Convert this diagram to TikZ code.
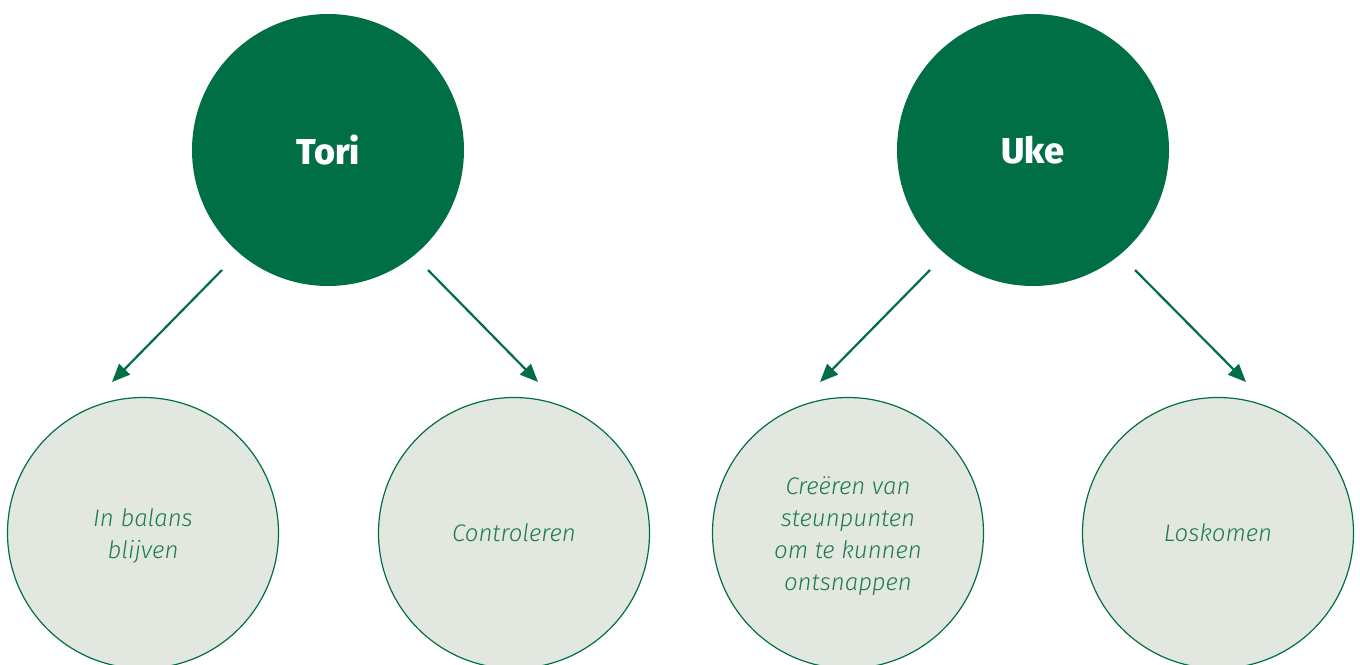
\documentclass[tikz,border=0pt]{standalone}
\usepackage{fontspec}
\setmainfont{Fira Sans}
\newfontfamily\lightfam{Fira Sans Light}
\newfontfamily\heavyfam{Fira Sans ExtraBold}
\usetikzlibrary{arrows.meta}
\definecolor{dgreen}{RGB}{0,111,70}
\definecolor{lgreen}{RGB}{226,231,224}
\definecolor{tgreen}{RGB}{30,122,84}
\newcommand{\tstrut}{\rule{0pt}{24pt}}
\begin{document}
\begin{tikzpicture}[x=1pt,y=-1pt,
  topc/.style={circle,fill=dgreen,minimum size=272pt,inner sep=0pt,text=white,font=\heavyfam\fontsize{36}{40}\selectfont},
  botc/.style={circle,fill=lgreen,draw=dgreen,line width=1.2pt,minimum size=271pt,inner sep=0pt,text=tgreen,align=center,font=\lightfam\fontsize{24}{32}\selectfont\itshape},
  arr/.style={draw=dgreen,line width=2.2pt,-{Triangle[length=18pt,width=15pt]}}]
\useasboundingbox (0,0) rectangle (1360,664);
\begin{scope}
\clip (0,0) rectangle (1360,664);
\node[topc] (tori) at (328,150) {Tori};
\node[topc] (uke) at (1033,150) {Uke};
\node[botc] (b1) at (143,533) {\tstrut In balans\\blijven};
\node[botc] (b2) at (514,533) {Controleren};
\node[botc] (b3) at (848,533) {\tstrut Creëren van\\steunpunten\\om te kunnen\\ontsnappen};
\node[botc] (b4) at (1218,533) {Loskomen};
\end{scope}
\coordinate (a1s) at (222,270); \coordinate (a1e) at (112,382);
\coordinate (a2s) at (428,270); \coordinate (a2e) at (538,382);
\coordinate (a3s) at (930,270); \coordinate (a3e) at (820,382);
\coordinate (a4s) at (1135,270); \coordinate (a4e) at (1246,382);
\draw[arr] (a1s) -- (a1e);
\draw[arr] (a2s) -- (a2e);
\draw[arr] (a3s) -- (a3e);
\draw[arr] (a4s) -- (a4e);
\end{tikzpicture}
\end{document}
